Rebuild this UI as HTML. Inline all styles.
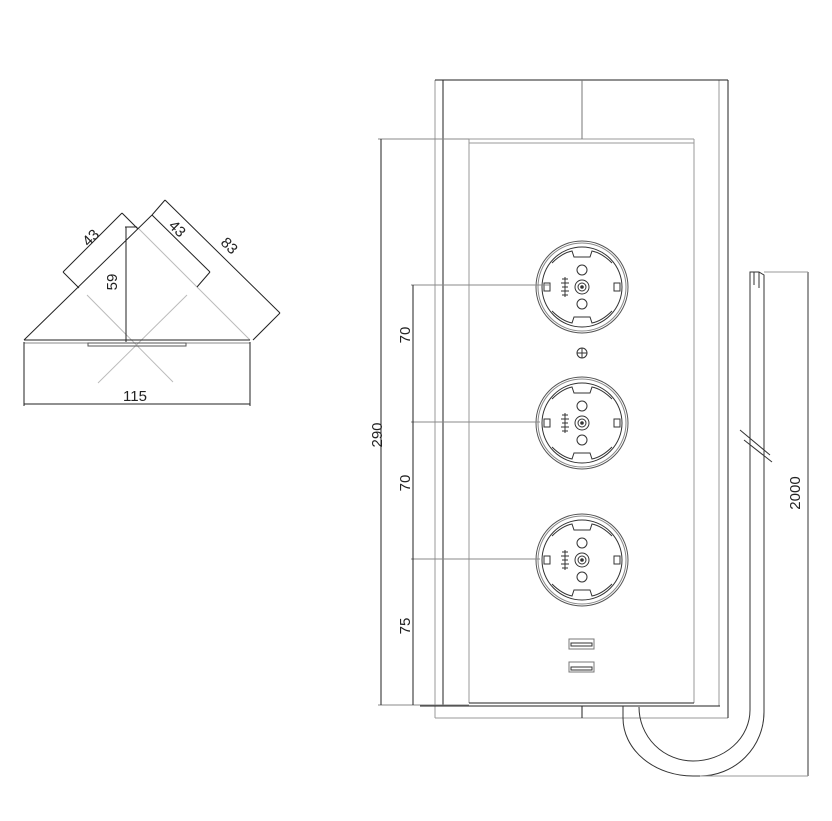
<!DOCTYPE html>
<html><head><style>body{margin:0;background:#fff}svg{display:block}text{font-family:"Liberation Sans",sans-serif;font-size:15px;fill:#222}</style></head>
<body>
<svg width="832" height="821" viewBox="0 0 832 821" xmlns="http://www.w3.org/2000/svg" fill="none" stroke-width="1">
<defs>
<g id="sock">
<circle r="46" stroke="#555"/><circle r="44" stroke="#888"/><circle r="40" stroke="#333"/>
<path d="M-30,-24 Q-20,-34 -10,-36 L-8,-30 L8,-30 L10,-36 Q20,-34 30,-24 M-30,24 Q-20,34 -10,36 L-8,30 L8,30 L10,36 Q20,34 30,24" stroke="#333"/>
<circle r="7" stroke="#333"/><circle r="4" stroke="#333"/><circle r="1.8" fill="#333" stroke="none"/>
<circle cy="-17" r="5" stroke="#333"/><circle cy="17" r="5" stroke="#333"/>
<rect x="-38" y="-4" width="6" height="8" stroke="#333"/><rect x="32" y="-4" width="6" height="8" stroke="#333"/>
<path d="M-20,-8 L-14,-8 M-21,-4 L-13,-4 M-20,0 L-14,0 M-21,4 L-13,4 M-20,8 L-14,8 M-17,-10 L-17,10" stroke="#333"/>
</g>
</defs>
<!-- left diagram -->
<g stroke="#bbb"><line x1="87" y1="295" x2="173" y2="382"/><line x1="187" y1="295" x2="98" y2="383"/><line x1="137" y1="227" x2="250" y2="340"/></g>
<g stroke="#222">
<line x1="24" y1="340" x2="152" y2="215"/>
<line x1="24" y1="340" x2="250" y2="340"/><line x1="24" y1="343" x2="250" y2="343" stroke="#888"/>
<rect x="88" y="343" width="98" height="3" stroke="#555"/>
<line x1="122" y1="213" x2="63" y2="272"/><line x1="63" y1="272" x2="79" y2="288"/><line x1="122" y1="213" x2="138" y2="229"/>
<line x1="152" y1="215" x2="210" y2="272"/><line x1="210" y1="272" x2="197" y2="287"/>
<line x1="165" y1="200" x2="280" y2="313"/><line x1="280" y1="313" x2="253" y2="340"/><line x1="165" y1="200" x2="152" y2="215"/>
<line x1="126" y1="227" x2="126" y2="342"/><line x1="125" y1="227" x2="137" y2="227"/>
<line x1="24" y1="342" x2="24" y2="406"/><line x1="250" y1="342" x2="250" y2="406"/><line x1="24" y1="404" x2="250" y2="404"/>
</g>
<text x="90" y="243" transform="rotate(-45 90 237)" text-anchor="middle">43</text>
<text x="178" y="234" transform="rotate(45 178 228)" text-anchor="middle">43</text>
<text x="230" y="251" transform="rotate(45 230 245)" text-anchor="middle">83</text>
<text x="122" y="287" transform="rotate(-90 117 287)" text-anchor="middle">59</text>
<text x="135" y="401" text-anchor="middle">115</text>
<!-- housing -->
<g stroke="#999"><line x1="435" y1="80" x2="435" y2="718"/><line x1="435" y1="718" x2="728" y2="718"/><line x1="719" y1="80" x2="719" y2="706"/><line x1="469" y1="139" x2="469" y2="703"/><line x1="694" y1="139" x2="694" y2="703"/><line x1="469" y1="139" x2="694" y2="139"/><line x1="469" y1="143" x2="694" y2="143"/></g>
<g stroke="#222"><line x1="435" y1="80" x2="728" y2="80"/><line x1="443" y1="80" x2="443" y2="706"/><line x1="728" y1="80" x2="728" y2="718"/><line x1="582" y1="80" x2="582" y2="139" stroke="#777"/>
<line x1="469" y1="703" x2="694" y2="703"/><line x1="420" y1="706" x2="720" y2="706"/><line x1="582" y1="706" x2="582" y2="718"/></g>
<!-- sockets -->
<use href="#sock" x="582" y="287"/><use href="#sock" x="582" y="423"/><use href="#sock" x="582" y="560"/>
<circle cx="582" cy="353" r="5" stroke="#333"/><path d="M577,353 H587 M582,348 V358" stroke="#333"/>
<rect x="569" y="639" width="25" height="10" stroke="#777"/><rect x="571" y="643" width="21" height="3" stroke="#333"/>
<rect x="569" y="662" width="25" height="10" stroke="#777"/><rect x="571" y="667" width="21" height="3" stroke="#333"/>
<!-- dims right -->
<g stroke="#888"><line x1="378" y1="139" x2="469" y2="139"/><line x1="378" y1="705" x2="469" y2="705"/><line x1="411" y1="285" x2="550" y2="285"/><line x1="411" y1="422" x2="540" y2="422"/><line x1="411" y1="559" x2="540" y2="559"/></g>
<g stroke="#222"><line x1="381" y1="139" x2="381" y2="705"/><line x1="413" y1="285" x2="413" y2="705"/></g>
<text x="381" y="446" transform="rotate(-90 376 440)" text-anchor="middle">290</text>
<text x="409" y="346" transform="rotate(-90 404 340)" text-anchor="middle">70</text>
<text x="409" y="494" transform="rotate(-90 404 488)" text-anchor="middle">70</text>
<text x="409" y="637" transform="rotate(-90 404 631)" text-anchor="middle">75</text>
<!-- cable -->
<g stroke="#333">
<path d="M623,706 V718 A70,58 0 0 0 693,776 H700 A64,64 0 0 0 764,712 V275 L759,272 H750 V710 A57,51 0 0 1 693,761 A54,54 0 0 1 639,707"/>
<path d="M754,272 V285 M759,272 V288" /><line x1="740" y1="430" x2="770" y2="455"/><line x1="744" y1="440" x2="772" y2="462"/>
<line x1="808" y1="272" x2="808" y2="776"/><line x1="764" y1="272" x2="808" y2="272" stroke="#999"/><line x1="700" y1="776" x2="808" y2="776" stroke="#999"/>
</g>
<text x="815" y="508" transform="rotate(-90 800 508)" text-anchor="middle">2000</text>
</svg>
</body></html>
